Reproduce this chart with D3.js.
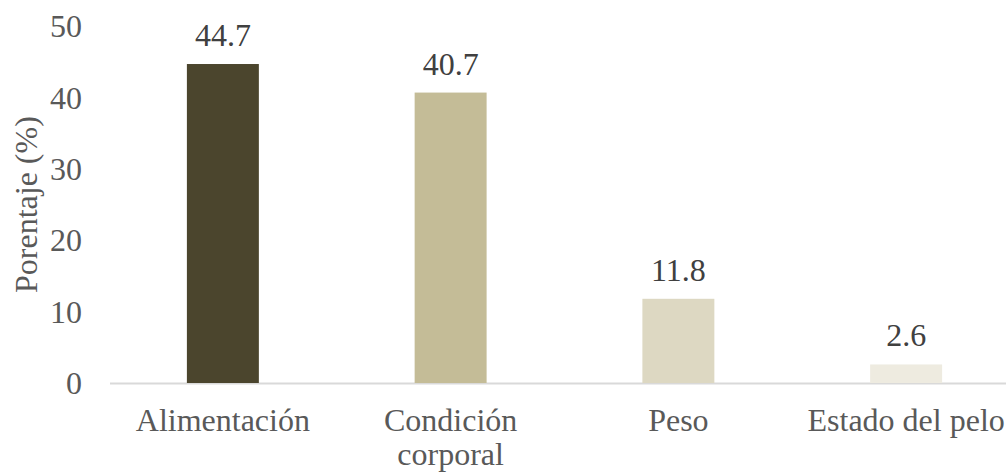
<!DOCTYPE html>
<html>
<head>
<meta charset="utf-8">
<script src="https://cdn.jsdelivr.net/npm/d3@7"></script>
<style>
  body { margin: 0; background: #fff; }
  svg { display: block; }
</style>
</head>
<body>
<svg id="chart" width="1006" height="472"></svg>
<script>
const categories = ["Alimentación", "Condición corporal", "Peso", "Estado del pelo"];
const categoryLines = [["Alimentación"], ["Condición", "corporal"], ["Peso"], ["Estado del pelo"]];
const values = [44.7, 40.7, 11.8, 2.6];
const barColors = ["#4b452d", "#c4bc97", "#ddd8c2", "#eeebe0"];
const yTicks = [0, 10, 20, 30, 40, 50];
const yTitle = "Porentaje (%)";

const FONT = "'Liberation Serif', 'Times New Roman', Times, 'DejaVu Serif', serif";

const svg = d3.select("#chart").attr("font-family", FONT);
const x = d3.scaleBand().domain(categories).range([109, 1020]).paddingInner(0.684).paddingOuter(0.342);
const y = d3.scaleLinear().domain([0, 50]).range([383, 26.2]);

// baseline axis
svg.append("line")
  .attr("x1", 110).attr("x2", 1020)
  .attr("y1", y(0) + 0.5).attr("y2", y(0) + 0.5)
  .attr("stroke", "#d9d9d9").attr("stroke-width", 2);

// bars
svg.selectAll("rect.bar").data(values).enter().append("rect")
  .attr("class", "bar")
  .attr("x", (d, i) => x(categories[i]))
  .attr("width", x.bandwidth())
  .attr("y", d => y(d))
  .attr("height", d => y(0) - y(d))
  .attr("fill", (d, i) => barColors[i]);

// data labels
svg.selectAll("text.val").data(values).enter().append("text")
  .attr("class", "val")
  .attr("font-family", FONT)
  .attr("x", (d, i) => x(categories[i]) + x.bandwidth() / 2)
  .attr("y", d => y(d) - 18)
  .attr("text-anchor", "middle")
  .attr("font-size", 32)
  .attr("fill", "#404040")
  .text(d => d.toFixed(1));

// y tick labels
svg.selectAll("text.ytick").data(yTicks).enter().append("text")
  .attr("class", "ytick")
  .attr("font-family", FONT)
  .attr("x", 82)
  .attr("y", d => y(d) + 11)
  .attr("text-anchor", "end")
  .attr("font-size", 32)
  .attr("fill", "#595959")
  .text(d => d);

// x category labels
categoryLines.forEach((lines, i) => {
  const t = svg.append("text")
    .attr("font-family", FONT)
    .attr("x", x(categories[i]) + x.bandwidth() / 2)
    .attr("y", 431)
    .attr("text-anchor", "middle")
    .attr("font-size", 32)
    .attr("fill", "#595959");
  lines.forEach((ln, j) => {
    t.append("tspan")
      .attr("x", x(categories[i]) + x.bandwidth() / 2)
      .attr("dy", j === 0 ? 0 : 34)
      .text(ln);
  });
});

// y title
svg.append("text")
  .attr("font-family", FONT)
  .attr("transform", `translate(37, ${(y(0) + y(50)) / 2}) rotate(-90)`)
  .attr("text-anchor", "middle")
  .attr("font-size", 32)
  .attr("fill", "#595959")
  .text(yTitle);
</script>
</body>
</html>
